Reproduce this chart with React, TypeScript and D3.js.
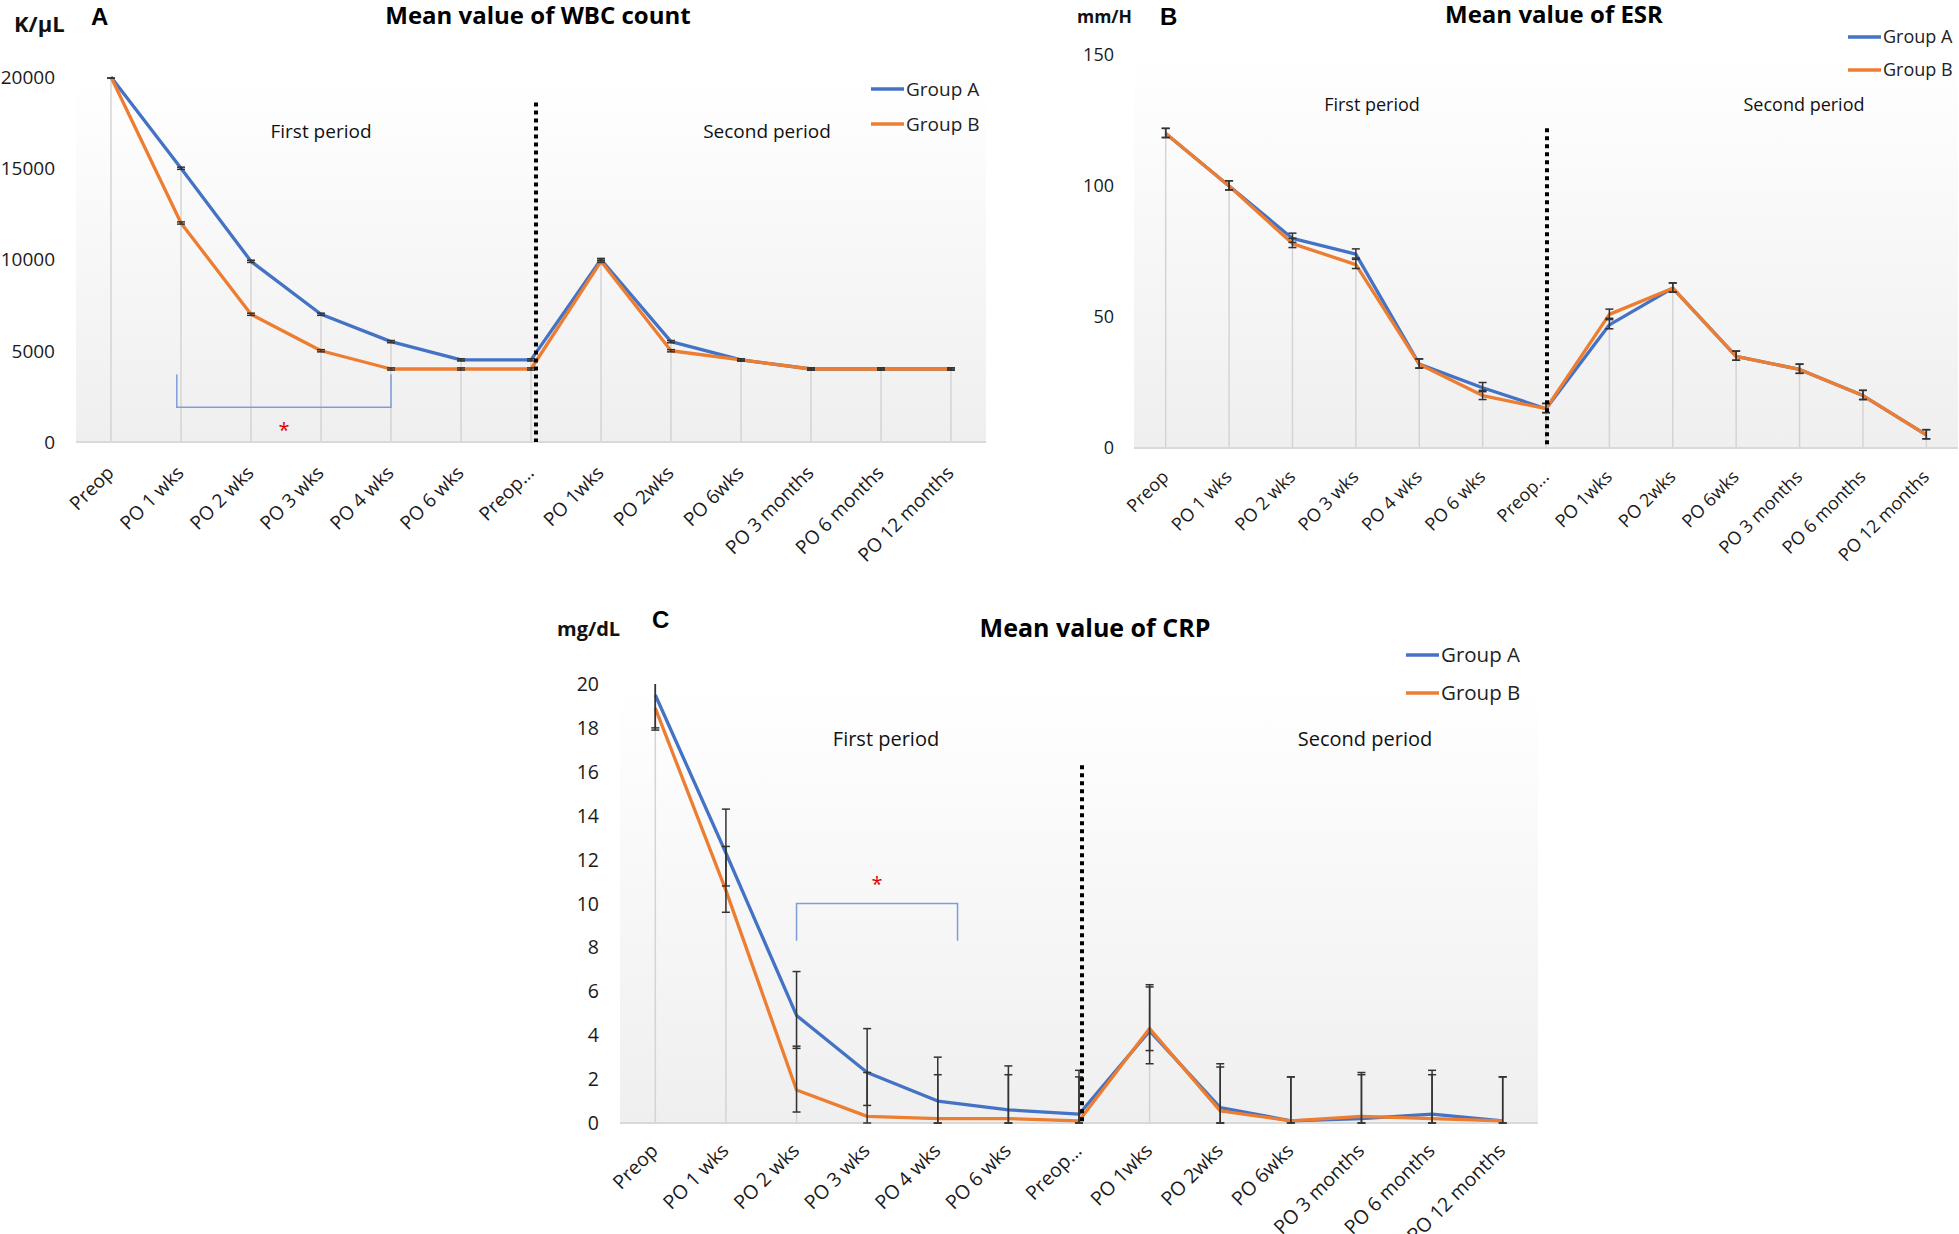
import * as d3 from "d3";

const FONT = "'Open Sans', 'Noto Sans', sans-serif";
const BLUE = "#4472C4";
const ORANGE = "#ED7D31";

// x categories shared by the three panels
const categories = [
  "Preop",
  "PO 1 wks",
  "PO 2 wks",
  "PO 3 wks",
  "PO 4 wks",
  "PO 6 wks",
  "Preop...",
  "PO 1wks",
  "PO 2wks",
  "PO 6wks",
  "PO 3 months",
  "PO 6 months",
  "PO 12 months",
];
const seriesNames = ["Group A", "Group B"];
const periodLabels = ["First period", "Second period"];

// A: WBC (K/μL)
const wbcGroupA = [20000, 15000, 9900, 7000, 5500, 4500, 4500, 10000, 5500, 4500, 4000, 4000, 4000];
const wbcGroupB = [20000, 12000, 7000, 5000, 4000, 4000, 4000, 9900, 5000, 4500, 4000, 4000, 4000];
const wbcErr = [60, 60]; // plus, minus
const wbcTicks = [0, 5000, 10000, 15000, 20000];

// B: ESR (mm/H)
const esrGroupA = [120, 100, 80, 74, 32, 23, 15, 47, 61, 35, 30, 20, 5];
const esrGroupB = [120, 100, 78, 70, 32, 20, 15, 51, 61, 35, 30, 20, 5];
const esrErr = [2, 1.5];
const esrTicks = [0, 50, 100, 150];

// C: CRP (mg/dL)
const crpGroupA = [19.5, 12.3, 4.9, 2.3, 1.0, 0.6, 0.4, 4.2, 0.7, 0.1, 0.2, 0.4, 0.1];
const crpGroupB = [18.9, 10.6, 1.5, 0.3, 0.2, 0.2, 0.1, 4.3, 0.55, 0.1, 0.3, 0.2, 0.1];
const crpErrA = [2.0, 1.5];
const crpErrB = [2.0, 1.0];
const crpTicks = [0, 2, 4, 6, 8, 10, 12, 14, 16, 18, 20];

type PanelSpec = {
  key: string;
  letter: string;
  unit: string;
  title: string;
  groupA: number[];
  groupB: number[];
  errA: number[];
  errB: number[];
  yMax: number;
  ticks: number[];
  box: { left: number; right: number; top: number; bottom: number };
  tickSize: number;
  labelRight: number;
  unitPos: [number, number, number];
  letterPos: [number, number];
  titlePos: [number, number, number];
  periodX: [number, number];
  periodY: number;
  periodSize: number;
  legend: { x: number; y1: number; y2: number; size: number };
  dividerTop: number;
  dividerShift: number;
  labelDy: number;
  bracket?: { from: number; to: number; fromShift: number; toShift: number; bar: number; tip: number; star: number };
};

const panels: PanelSpec[] = [
  {
    key: "wbc",
    letter: "A",
    unit: "K/μL",
    title: "Mean value of WBC count",
    groupA: wbcGroupA,
    groupB: wbcGroupB,
    errA: wbcErr,
    errB: wbcErr,
    yMax: 20000,
    ticks: wbcTicks,
    box: { left: 76, right: 986, top: 77, bottom: 442 },
    tickSize: 19,
    labelRight: 55,
    unitPos: [14, 32, 22],
    letterPos: [91, 25],
    titlePos: [538, 24, 24],
    periodX: [321, 767],
    periodY: 138,
    periodSize: 19,
    legend: { x: 871, y1: 89, y2: 124, size: 19 },
    dividerTop: 18600,
    dividerShift: 5,
    labelDy: 32,
    bracket: { from: 1, to: 4, fromShift: -0.06, toShift: 0, bar: 1900, tip: 3700, star: 930 },
  },
  {
    key: "esr",
    letter: "B",
    unit: "mm/H",
    title: "Mean value of ESR",
    groupA: esrGroupA,
    groupB: esrGroupB,
    errA: esrErr,
    errB: esrErr,
    yMax: 150,
    ticks: esrTicks,
    box: { left: 1134, right: 1958, top: 55, bottom: 448 },
    tickSize: 18,
    labelRight: 1114,
    unitPos: [1077, 23, 17.5],
    letterPos: [1160, 25],
    titlePos: [1554, 23, 24],
    periodX: [1372, 1804],
    periodY: 111,
    periodSize: 18,
    legend: { x: 1848, y1: 37, y2: 70, size: 18 },
    dividerTop: 122,
    dividerShift: 1,
    labelDy: 30,
  },
  {
    key: "crp",
    letter: "C",
    unit: "mg/dL",
    title: "Mean value of CRP",
    groupA: crpGroupA,
    groupB: crpGroupB,
    errA: crpErrA,
    errB: crpErrB,
    yMax: 20,
    ticks: crpTicks,
    box: { left: 620, right: 1538, top: 684, bottom: 1123 },
    tickSize: 19.5,
    labelRight: 599,
    unitPos: [557, 636, 20],
    letterPos: [652, 628],
    titlePos: [1095, 637, 25],
    periodX: [886, 1365],
    periodY: 746,
    periodSize: 20,
    legend: { x: 1406, y1: 655, y2: 693, size: 20.5 },
    dividerTop: 16.3,
    dividerShift: 3,
    labelDy: 29,
    bracket: { from: 2, to: 4, fromShift: 0, toShift: 0.28, bar: 10, tip: 8.3, star: 11.1 },
  },
];

const ChartPanel = ({ spec }: { spec: PanelSpec }) => {
  const { box } = spec;
  const x = d3.scalePoint<string>().domain(categories).range([box.left, box.right]).padding(0.5);
  const y = d3.scaleLinear().domain([0, spec.yMax]).range([box.bottom, box.top]);
  const cx = (i: number) => x(categories[i]) as number;
  const clampY = (v: number) => y(Math.max(0, Math.min(spec.yMax, v)));
  const line = d3
    .line<number>()
    .x((_, i) => cx(i))
    .y((d) => y(d));

  const series = [
    { name: seriesNames[0], values: spec.groupA, err: spec.errA, color: BLUE },
    { name: seriesNames[1], values: spec.groupB, err: spec.errB, color: ORANGE },
  ];
  const gradId = `bg-${spec.key}`;
  const dividerX = cx(6) + spec.dividerShift;
  const br = spec.bracket;
  const brLeft = br ? cx(br.from) + br.fromShift * x.step() : 0;
  const brRight = br ? cx(br.to) + br.toShift * x.step() : 0;

  return (
    <g>
      <defs>
        <linearGradient id={gradId} x1="0" y1="0" x2="0" y2="1">
          <stop offset="0%" stopColor="#ffffff" />
          <stop offset="100%" stopColor="#efefef" />
        </linearGradient>
      </defs>
      <rect x={box.left} y={box.top} width={box.right - box.left} height={box.bottom - box.top} fill={`url(#${gradId})`} />

      {/* drop lines */}
      {categories.map((c, i) => (
        <line
          key={c}
          x1={cx(i)}
          x2={cx(i)}
          y1={y(Math.max(spec.groupA[i], spec.groupB[i]))}
          y2={box.bottom}
          stroke="#d4d4d4"
          strokeWidth={1.5}
        />
      ))}
      <line x1={box.left} x2={box.right} y1={box.bottom} y2={box.bottom} stroke="#d9d9d9" strokeWidth={2} />

      {/* y tick labels */}
      {spec.ticks.map((t) => (
        <text
          key={t}
          x={spec.labelRight}
          y={y(t)}
          dy="0.36em"
          textAnchor="end"
          fontFamily={FONT}
          fontSize={spec.tickSize}
          fill="#1a1a1a"
        >
          {t}
        </text>
      ))}

      {/* x tick labels */}
      {categories.map((c, i) => (
        <text
          key={c}
          transform={`translate(${cx(i) + 4},${box.bottom + spec.labelDy}) rotate(-45)`}
          textAnchor="end"
          fontFamily={FONT}
          fontSize={spec.tickSize}
          fill="#1a1a1a"
        >
          {c}
        </text>
      ))}

      {/* series lines */}
      {series.map((s) => (
        <path key={s.name} d={line(s.values) ?? ""} fill="none" stroke={s.color} strokeWidth={3.3} strokeLinejoin="round" />
      ))}

      {/* error bars (no cap where the bar is clipped at the top) */}
      {series.map((s) =>
        s.values.map((v, i) => {
          const clipped = v + s.err[0] > spec.yMax;
          const yHi = clampY(v + s.err[0]);
          const yLo = clampY(v - s.err[1]);
          const xx = cx(i);
          return (
            <g key={`${s.name}-${i}`} stroke="#333" strokeWidth={1.5}>
              <line x1={xx} x2={xx} y1={yHi} y2={yLo} />
              {!clipped && <line x1={xx - 4} x2={xx + 4} y1={yHi} y2={yHi} />}
              <line x1={xx - 4} x2={xx + 4} y1={yLo} y2={yLo} />
            </g>
          );
        })
      )}

      {/* period divider */}
      <line
        x1={dividerX}
        x2={dividerX}
        y1={y(spec.dividerTop)}
        y2={box.bottom}
        stroke="#000"
        strokeWidth={4}
        strokeDasharray="4 4"
      />

      {/* significance bracket */}
      {br && (
        <g>
          <path
            d={`M${brLeft},${y(br.tip)}V${y(br.bar)}H${brRight}V${y(br.tip)}`}
            fill="none"
            stroke="#7f9ed8"
            strokeWidth={1.5}
          />
          <text
            x={(brLeft + brRight) / 2}
            y={y(br.star)}
            dy="0.6em"
            textAnchor="middle"
            fontFamily={FONT}
            fontSize={20}
            fill="#e00000"
          >
            *
          </text>
        </g>
      )}

      {/* period labels */}
      {periodLabels.map((p, i) => (
        <text key={p} x={spec.periodX[i]} y={spec.periodY} textAnchor="middle" fontFamily={FONT} fontSize={spec.periodSize} fill="#111">
          {p}
        </text>
      ))}

      {/* legend */}
      {series.map((s, i) => {
        const ly = i === 0 ? spec.legend.y1 : spec.legend.y2;
        return (
          <g key={s.name}>
            <line x1={spec.legend.x} x2={spec.legend.x + 33} y1={ly} y2={ly} stroke={s.color} strokeWidth={3.3} />
            <text x={spec.legend.x + 35} y={ly + spec.legend.size * 0.36} fontFamily={FONT} fontSize={spec.legend.size} fill="#222">
              {s.name}
            </text>
          </g>
        );
      })}

      {/* titles */}
      <text x={spec.titlePos[0]} y={spec.titlePos[1]} textAnchor="middle" fontFamily={FONT} fontWeight="bold" fontSize={spec.titlePos[2]} fill="#000">
        {spec.title}
      </text>
      <text x={spec.letterPos[0]} y={spec.letterPos[1]} fontFamily="'Liberation Sans', Arial, sans-serif" fontWeight="bold" fontSize={24} fill="#000">
        {spec.letter}
      </text>
      <text x={spec.unitPos[0]} y={spec.unitPos[1]} fontFamily={FONT} fontWeight="bold" fontSize={spec.unitPos[2]} fill="#111">
        {spec.unit}
      </text>
    </g>
  );
};

const App = () => {
  return (
    <svg
      width={1959}
      height={1234}
      viewBox="0 0 1959 1234"
      style={{ position: "absolute", left: 0, top: 0, background: "#fff" }}
    >
      {panels.map((p) => (
        <ChartPanel key={p.key} spec={p} />
      ))}
    </svg>
  );
};

export default App;
